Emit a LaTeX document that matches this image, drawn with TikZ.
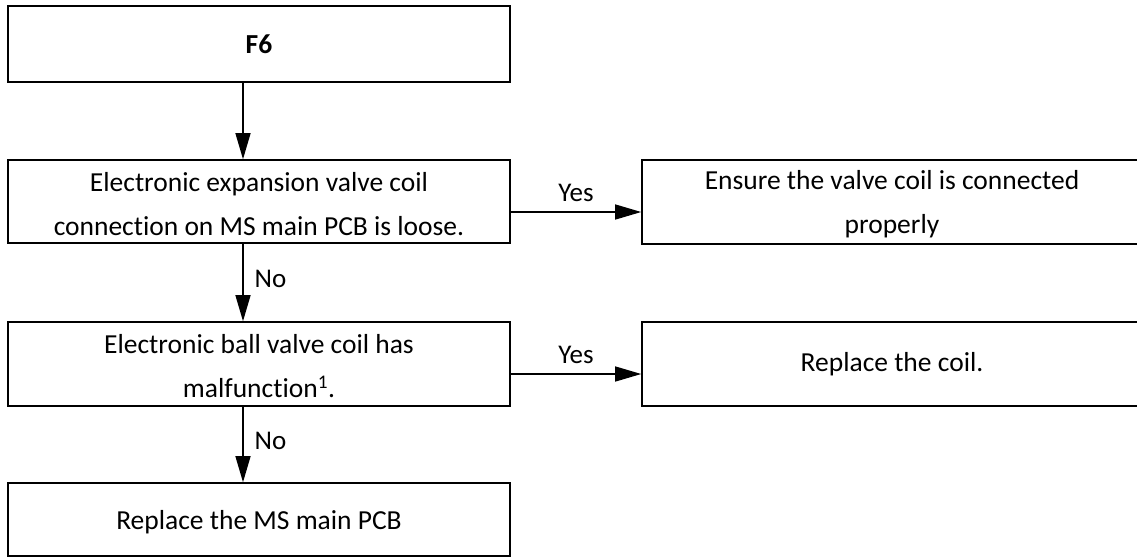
\documentclass[tikz,border=0pt]{standalone}
\usepackage{fontspec}
\setmainfont{Carlito}[Ligatures=NoCommon]
\usetikzlibrary{arrows.meta}
\tikzset{
  box/.style={draw=black, line width=1.6pt, rectangle, align=center, inner sep=0pt,
    font=\fontsize{27.5}{44}\selectfont},
  arr/.style={line width=1.3pt, -{Triangle[length=26pt,width=15pt]}},
  lbl/.style={font=\fontsize{27}{32}\selectfont, inner sep=0pt}
}
\begin{document}
\begin{tikzpicture}[x=1pt,y=-1pt]
\useasboundingbox (0,0) rectangle (1137,558);
\clip (0,0) rectangle (1137,558);
\node[box, minimum width=502pt, minimum height=76pt] (f6) at (259,44) {\textbf{F6}};
\node[box, minimum width=502pt, minimum height=83pt] (b2) at (259,201.5) {\rule{0pt}{24pt}Electronic expansion valve coil\\connection on MS main PCB is loose.};
\node[box, minimum width=500pt, minimum height=84pt] (b3) at (892,202) {\rule{0pt}{24pt}Ensure the valve coil is connected\\properly};
\node[box, minimum width=502pt, minimum height=84pt] (b4) at (259,364) {\rule{0pt}{24pt}Electronic ball valve coil has\\malfunction\textsuperscript{1}.};
\node[box, minimum width=500pt, minimum height=84pt] (b5) at (892,364) {Replace the coil.};
\node[box, minimum width=502pt, minimum height=73pt, text height=26pt, text depth=6pt] (b6) at (259,519.5) {Replace the MS main PCB};
\draw[arr] (f6.south -| 243,0) -- (b2.north -| 243,0);
\draw[arr] (b2.south -| 243,0) -- node[lbl, anchor=west, xshift=11pt, yshift=4pt] {No} (b4.north -| 243,0);
\draw[arr] (b4.south -| 243,0) -- node[lbl, anchor=west, xshift=11pt, yshift=4pt] {No} (b6.north -| 243,0);
\draw[arr] (b2.east |- 0,212) -- node[lbl, anchor=south, yshift=10pt] {Yes} (b3.west |- 0,212);
\draw[arr] (b4.east |- 0,374) -- node[lbl, anchor=south, yshift=10pt] {Yes} (b5.west |- 0,374);
\end{tikzpicture}
\end{document}
